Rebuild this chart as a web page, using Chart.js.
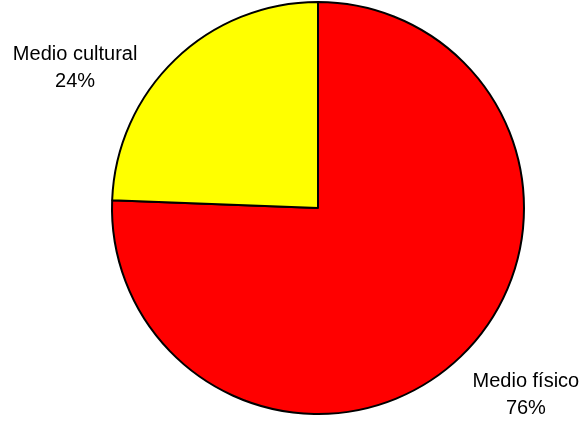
<!DOCTYPE html>
<html>
<head>
<meta charset="utf-8">
<script src="https://cdn.jsdelivr.net/npm/chart.js@4/dist/chart.umd.min.js"></script>
<style>
  html, body { margin: 0; padding: 0; background: #fff; }
  #wrap { width: 584px; height: 423px; }
</style>
</head>
<body>
<div id="wrap"><canvas id="pieChart" width="584" height="423"></canvas></div>
<script>
const categories = ['Medio físico', 'Medio cultural'];
const shares = [75.6, 24.4];
const sliceColors = ['#ff0000', '#ffff00'];

// where each label sits relative to the outer edge point at the slice's mid angle
const labelShift = [
  { dx: 65, dy: 31 },
  { dx: -100, dy: 0 }
];

const total = shares.reduce((a, b) => a + b, 0);

const sliceLabels = {
  id: 'sliceLabels',
  afterDatasetsDraw(chart) {
    const ctx = chart.ctx;
    const meta = chart.getDatasetMeta(0);
    ctx.save();
    ctx.font = '20px "Liberation Sans", Arial, sans-serif';
    ctx.fillStyle = '#000';
    ctx.textAlign = 'center';
    ctx.textBaseline = 'alphabetic';
    meta.data.forEach((arc, i) => {
      const p = arc.getProps(['x', 'y', 'startAngle', 'endAngle', 'outerRadius'], true);
      const mid = (p.startAngle + p.endAngle) / 2;
      const ox = p.x + Math.cos(mid) * p.outerRadius;
      const oy = p.y + Math.sin(mid) * p.outerRadius;
      const lx = ox + labelShift[i].dx;
      const ly = oy + labelShift[i].dy;
      const pct = Math.round(shares[i] / total * 100) + '%';
      ctx.fillText(categories[i], lx, ly);
      ctx.fillText(pct, lx, ly + 27);
    });
    ctx.restore();
  }
};

new Chart(document.getElementById('pieChart'), {
  type: 'pie',
  data: {
    labels: categories,
    datasets: [{
      data: shares,
      backgroundColor: sliceColors,
      borderColor: '#000',
      borderWidth: 2,
      hoverBorderWidth: 2
    }]
  },
  options: {
    responsive: false,
    animation: false,
    layout: { padding: { top: 1, bottom: 8, left: 111, right: 59 } },
    plugins: {
      legend: { display: false },
      tooltip: { enabled: false }
    }
  },
  plugins: [sliceLabels]
});
</script>
</body>
</html>
